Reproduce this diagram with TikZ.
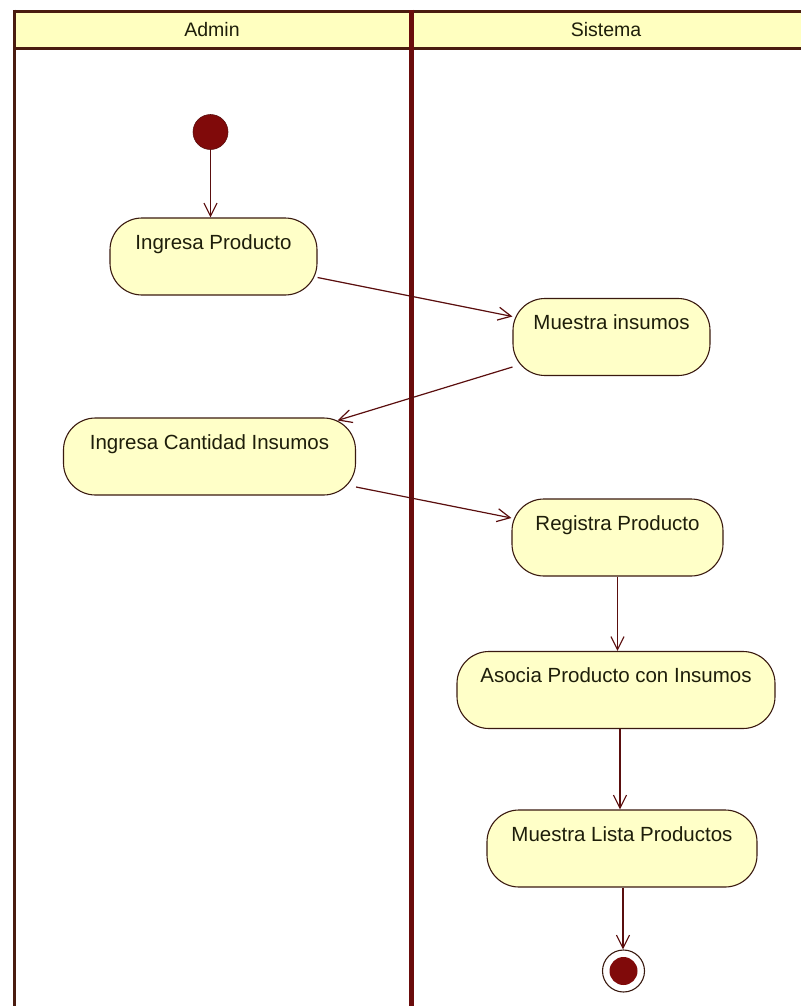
\documentclass[tikz,border=0pt]{standalone}
\usepackage{fontspec}
\setmainfont{Liberation Sans}
\usetikzlibrary{arrows.meta,calc}

\definecolor{headfill}{HTML}{FFFFC0}
\definecolor{nodefill}{HTML}{FFFFC8}
\definecolor{framecol}{HTML}{4A1C10}
\definecolor{dividercol}{HTML}{6A0C0C}
\definecolor{edgecol}{HTML}{3A1A10}
\definecolor{flowcol}{HTML}{5A0E0E}
\definecolor{dotcol}{HTML}{800A0A}
\definecolor{txtcol}{HTML}{1E1E0A}

\begin{document}
\begin{tikzpicture}[x=1bp,y=-1bp,
  lanetitle/.style={font=\fontsize{19.5bp}{22bp}\selectfont, text=txtcol, inner sep=0pt},
  act/.style={draw=edgecol, line width=1.1bp, fill=nodefill, rounded corners=32bp,
    inner sep=0pt, text height=31bp, text depth=46bp, minimum width=#1,
    font=\fontsize{20.5bp}{24bp}\selectfont, text=txtcol},
  flow/.style={draw=flowcol, line width=1.2bp, -{Straight Barb[length=13bp,width=13bp]}},
  initial/.style={circle, fill=dotcol, draw=flowcol, line width=0.6bp, minimum size=35bp, inner sep=0pt},
  finalring/.style={circle, draw=edgecol, line width=1.1bp, fill=white, minimum size=42bp, inner sep=0pt},
  finaldot/.style={circle, fill=dotcol, minimum size=28bp, inner sep=0pt}
]
\useasboundingbox (0,0) rectangle (801,1006);

% swimlane headers and borders
\fill[headfill] (14,11) rectangle (801,48);
\draw[framecol, line width=3bp] (14,11) -- (801,11);
\draw[framecol, line width=3bp] (14,48) -- (801,48);
\draw[framecol, line width=3bp] (14,9.5) -- (14,1006);
\draw[dividercol, line width=5bp] (411,9.5) -- (411,1006);
\node[lanetitle] (hadmin) at (212,30) {Admin};
\node[lanetitle] (hsis) at (606,30) {Sistema};

% activities
\node[initial] (start) at (210.5,132) {};
\node[act=207bp] (ip) at (213.5,256.5) {Ingresa Producto};
\node[act=197bp] (mi) at (611.5,337) {Muestra insumos};
\node[act=292bp] (ic) at (209.5,456.5) {Ingresa Cantidad Insumos};
\node[act=211bp] (rp) at (617.5,537.5) {Registra Producto};
\node[act=318bp] (ap) at (616,690) {Asocia Producto con Insumos};
\node[act=270bp] (ml) at (622,848.5) {Muestra Lista Productos};
\node[finalring] (stop) at (623.5,971) {};
\node[finaldot] (stopdot) at (stop.center) {};

% exit points of the vertical flows
\coordinate (apout) at ($(ap.south)+(4,0)$);
\coordinate (mlout) at ($(ml.south)+(1,0)$);

% control flow
\draw[flow] (start.south) -- (start.south |- ip.north);
\draw[flow] ($(ip.east)+(0,21)$) -- ($(mi.west)+(0,-20.5)$);
\draw[flow] ($(mi.west)+(0,30)$) -- ($(ic.north)+(128,3)$);
\draw[flow] ($(ic.east)+(0,30.5)$) -- ($(rp.west)+(0,-19.5)$);
\draw[flow] (rp.south) -- (rp.south |- ap.north);
\draw[flow] (apout) -- (apout |- ml.north);
\draw[flow] (mlout) -- (mlout |- stop.north);
\end{tikzpicture}
\end{document}
